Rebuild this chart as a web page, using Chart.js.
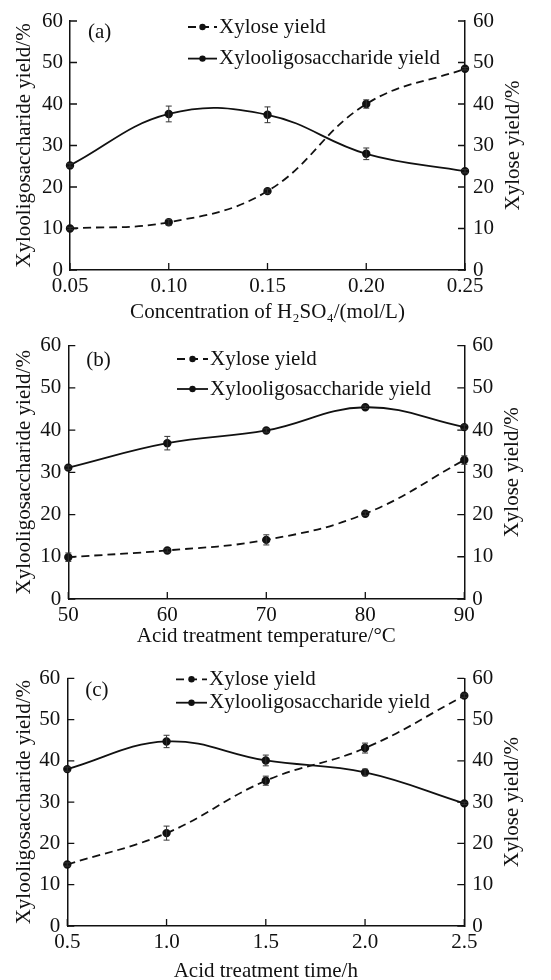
<!DOCTYPE html>
<html>
<head>
<meta charset="utf-8">
<script src="https://cdn.jsdelivr.net/npm/chart.js@4.4.1/dist/chart.umd.min.js"></script>
<style>
  html, body { margin: 0; padding: 0; background: #fff; overflow: hidden; }
  .panel { position: absolute; left: 0; width: 551px; }
</style>
</head>
<body>
<div class="panel" style="top:0;height:325px"><canvas id="chartA"></canvas></div>
<div class="panel" style="top:325px;height:325px"><canvas id="chartB"></canvas></div>
<div class="panel" style="top:650px;height:335px"><canvas id="chartC"></canvas></div>
<script>
// (a) H2SO4 concentration
const concentration = [0.05, 0.10, 0.15, 0.20, 0.25];
const xosA = [25.2, 37.6, 37.4, 28.0, 23.8];
const xosErrA = [0.4, 1.9, 1.9, 1.4, 0.4];
const xyloseA = [10.0, 11.5, 19.0, 40.0, 48.5];
const xyloseErrA = [0.3, 0.7, 0.5, 1.0, 0.3];

// (b) temperature
const temperature = [50, 60, 70, 80, 90];
const xosB = [31.1, 36.9, 39.9, 45.4, 40.7];
const xosErrB = [0.4, 1.6, 0.4, 0.3, 0.5];
const xyloseB = [9.9, 11.5, 14.0, 20.2, 32.9];
const xyloseErrB = [1.0, 0.4, 1.2, 0.4, 1.0];

// (c) time
const time = [0.5, 1.0, 1.5, 2.0, 2.5];
const xosC = [38.0, 44.7, 40.1, 37.2, 29.7];
const xosErrC = [0.5, 1.5, 1.3, 0.8, 0.3];
const xyloseC = [14.9, 22.5, 35.2, 43.1, 55.8];
const xyloseErrC = [0.4, 1.7, 1.1, 1.2, 0.4];

const yieldTicks = [0, 10, 20, 30, 40, 50, 60];
const seriesLabels = ["Xylose yield", "Xylooligosaccharide yield"];

const FONT = "'Liberation Serif', 'Times New Roman', serif";
const INK = "#111";
Chart.defaults.font.family = FONT;
Chart.defaults.font.size = 21;
Chart.defaults.color = INK;

// inward ticks, error bars, legend, panel tag and right-hand title
const panelDecor = {
  id: "panelDecor",
  afterDatasetsDraw(chart, args, opts) {
    const ctx = chart.ctx;
    const { left, right, top, bottom } = chart.chartArea;
    const xs = chart.scales.x;
    const yl = chart.scales.yLeft;
    const yr = chart.scales.yRight;
    ctx.save();
    ctx.strokeStyle = INK;
    ctx.lineWidth = 1.3;
    ctx.beginPath();
    xs.ticks.forEach((t) => {
      const px = xs.getPixelForValue(t.value);
      ctx.moveTo(px, bottom);
      ctx.lineTo(px, bottom - 7);
    });
    yl.ticks.forEach((t) => {
      const py = yl.getPixelForValue(t.value);
      ctx.moveTo(left, py);
      ctx.lineTo(left + 7, py);
    });
    yr.ticks.forEach((t) => {
      const py = yr.getPixelForValue(t.value);
      ctx.moveTo(right, py);
      ctx.lineTo(right - 7, py);
    });
    ctx.stroke();

    // error bars
    ctx.lineWidth = 1;
    ctx.strokeStyle = "#333";
    ctx.beginPath();
    chart.data.datasets.forEach((ds) => {
      const ys = chart.scales[ds.yAxisID];
      ds.data.forEach((p, j) => {
        const e = ds.errors[j];
        const px = xs.getPixelForValue(p.x);
        const y1 = ys.getPixelForValue(p.y + e);
        const y2 = ys.getPixelForValue(p.y - e);
        ctx.moveTo(px, y1);
        ctx.lineTo(px, y2);
        ctx.moveTo(px - 3, y1);
        ctx.lineTo(px + 3, y1);
        ctx.moveTo(px - 3, y2);
        ctx.lineTo(px + 3, y2);
      });
    });
    ctx.stroke();

    // legend
    ctx.font = "21px " + FONT;
    ctx.fillStyle = INK;
    ctx.textBaseline = "middle";
    ctx.textAlign = "left";
    chart.data.datasets.forEach((ds, i) => {
      const ry = top + opts.legendRows[i];
      const x0 = opts.legendX;
      const x1 = x0 + opts.legendLen;
      ctx.strokeStyle = INK;
      ctx.lineWidth = 1.8;
      ctx.setLineDash(ds.borderDash || []);
      ctx.beginPath();
      ctx.moveTo(x0, ry);
      ctx.lineTo(x1, ry);
      ctx.stroke();
      ctx.setLineDash([]);
      ctx.beginPath();
      ctx.arc((x0 + x1) / 2, ry, 3.2, 0, Math.PI * 2);
      ctx.fill();
      ctx.fillText(ds.label, x1 + 2, ry);
    });

    // panel tag
    ctx.fillText(opts.tag, left + 18, top + opts.tagY);

    // right axis title, reading bottom to top
    ctx.translate(right + 48, (top + bottom) / 2);
    ctx.rotate(-Math.PI / 2);
    ctx.textAlign = "center";
    ctx.fillText("Xylose yield/%", 0, 0);
    ctx.restore();
  },
};

function buildPanel(id, p) {
  const pts = (ys) => p.x.map((x, i) => ({ x: x, y: ys[i] }));
  const fixTicks = (vals) => (s) => {
    s.ticks = vals.map((v) => ({ value: v }));
  };
  return new Chart(document.getElementById(id), {
    type: "line",
    data: {
      datasets: [
        {
          label: seriesLabels[0],
          data: pts(p.xylose),
          errors: p.xyloseErr,
          yAxisID: "yRight",
          borderColor: INK,
          backgroundColor: INK,
          borderWidth: 1.8,
          borderDash: [8, 5],
          pointRadius: 3.3,
          tension: 0.4,
          clip: false,
        },
        {
          label: seriesLabels[1],
          data: pts(p.xos),
          errors: p.xosErr,
          yAxisID: "yLeft",
          borderColor: INK,
          backgroundColor: INK,
          borderWidth: 1.8,
          pointRadius: 3.3,
          tension: 0.4,
          clip: false,
        },
      ],
    },
    options: {
      responsive: true,
      maintainAspectRatio: false,
      animation: false,
      layout: { padding: { top: p.top, left: 0, right: 0, bottom: 0 } },
      plugins: {
        legend: { display: false },
        tooltip: { enabled: false },
        panelDecor: p.decor,
      },
      scales: {
        x: {
          type: "linear",
          min: p.x[0],
          max: p.x[p.x.length - 1],
          afterBuildTicks: fixTicks(p.x),
          afterFit: (s) => { s.height = p.bottomH; },
          grid: { display: false, drawTicks: false },
          border: { display: true, color: INK, width: 1.5 },
          ticks: { padding: 4, callback: (v) => v.toFixed(p.digits) },
          title: {
            display: true,
            text: p.xTitle,
            padding: { top: 0, bottom: p.titlePad },
          },
        },
        yLeft: {
          type: "linear",
          position: "left",
          min: 0,
          max: 60,
          afterBuildTicks: fixTicks(yieldTicks),
          afterFit: (s) => { s.width = p.leftW; },
          grid: { display: false, drawTicks: false },
          border: { display: true, color: INK, width: 1.5 },
          ticks: { padding: 7 },
          title: {
            display: true,
            text: "Xylooligosaccharide yield/%",
            padding: { top: 12, bottom: 0 },
          },
        },
        yRight: {
          type: "linear",
          position: "right",
          min: 0,
          max: 60,
          afterBuildTicks: fixTicks(yieldTicks),
          afterFit: (s) => { s.width = p.rightW; },
          grid: { display: false, drawTicks: false },
          border: { display: true, color: INK, width: 1.5 },
          ticks: { padding: 8 },
        },
      },
    },
    plugins: [panelDecor],
  });
}

buildPanel("chartA", {
  x: concentration, xos: xosA, xosErr: xosErrA, xylose: xyloseA, xyloseErr: xyloseErrA,
  digits: 2, xTitle: "Concentration of H\u2082SO\u2084/(mol/L)",
  top: 21, bottomH: 55, leftW: 70, rightW: 86, titlePad: 0,
  decor: { legendX: 188, legendLen: 29, legendRows: [6, 37.6], tag: "(a)", tagY: 11 },
});

buildPanel("chartB", {
  x: temperature, xos: xosB, xosErr: xosErrB, xylose: xyloseB, xyloseErr: xyloseErrB,
  digits: 0, xTitle: "Acid treatment temperature/\u00b0C",
  top: 13.3, bottomH: 51, leftW: 68.3, rightW: 86.7, titlePad: 0.5,
  decor: { legendX: 177, legendLen: 31, legendRows: [13.4, 43.4], tag: "(b)", tagY: 14.7 },
});

buildPanel("chartC", {
  x: time, xos: xosC, xosErr: xosErrC, xylose: xyloseC, xyloseErr: xyloseErrC,
  digits: 1, xTitle: "Acid treatment time/h",
  top: 28.3, bottomH: 59, leftW: 67.3, rightW: 86.7, titlePad: 0.5,
  decor: { legendX: 176, legendLen: 31, legendRows: [1, 24.4], tag: "(c)", tagY: 11.7 },
});
</script>
</body>
</html>
